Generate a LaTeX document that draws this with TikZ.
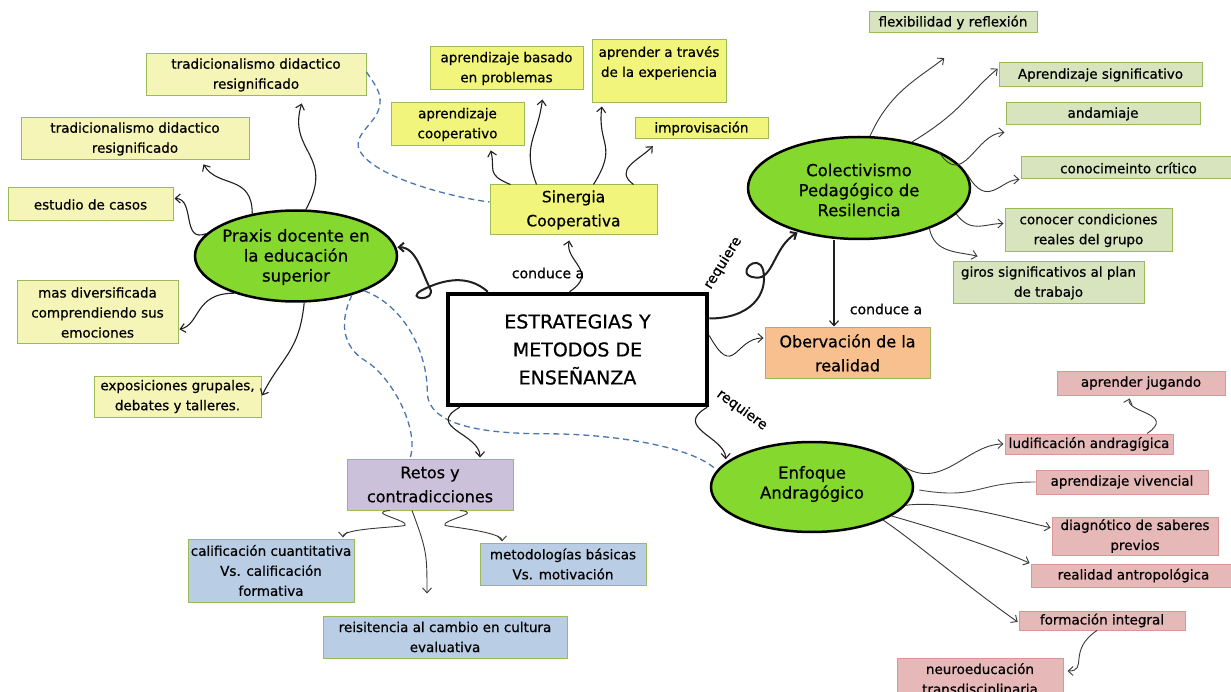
\documentclass[tikz,border=0pt]{standalone}
\usepackage{fontspec}
\setmainfont{DejaVu Sans}[FakeBold=0.6]
\usetikzlibrary{shapes.geometric,arrows.meta,calc}

\definecolor{lightyel}{HTML}{F6F5B8}
\definecolor{brightyel}{HTML}{F2F57C}
\definecolor{greenbox}{HTML}{D8E4BE}
\definecolor{boxline}{HTML}{9BBB59}
\definecolor{hubgreen}{HTML}{85D92E}
\definecolor{orangebox}{HTML}{F9C08F}
\definecolor{purplebox}{HTML}{CCC1DA}
\definecolor{bluebox}{HTML}{B9CDE5}
\definecolor{pinkbox}{HTML}{E6B9B8}
\definecolor{pinkline}{HTML}{D99694}
\definecolor{dashblue}{HTML}{4A76B0}

% rectangle node given by its corners (x1,y1)-(x2,y2)
\newcommand\boxat[7]{\node[#1, minimum width={#5-#3}, minimum height={#6-#4}] (#2) at ({(#3+#5)/2},{(#4+#6)/2}) {#7};}

\begin{document}
\begin{tikzpicture}[x=1pt,y=-1pt,
  base/.style={draw=boxline, line width=1pt, inner sep=0pt, align=center,
    font=\fontsize{13.5}{20}\selectfont},
  trad/.style={base, fill=lightyel},
  syn/.style={base, fill=brightyel},
  grn/.style={base, fill=greenbox},
  obsv/.style={base, fill=orangebox, font=\fontsize{16}{24}\selectfont},
  retos/.style={base, fill=purplebox, font=\fontsize{16}{24}\selectfont},
  blu/.style={base, fill=bluebox},
  pnk/.style={base, fill=pinkbox, draw=pinkline},
  hub/.style={ellipse, draw=black, line width=2.5pt, fill=hubgreen, inner sep=0pt},
  hubtxt/.style={align=center, inner sep=0pt, font=\fontsize{16.5}{20}\selectfont},
  lbl/.style={inner sep=0pt, font=\fontsize{14}{16}\selectfont},
  lk/.style={draw=black!88, line width=1.1pt, -{Straight Barb[length=5pt,width=9pt]}, shorten >=1pt},
  lkthick/.style={lk, line width=2pt},
  lkthin/.style={lk, line width=0.9pt, draw=black!78},
  plain/.style={draw=black!70, line width=0.9pt},
  dsh/.style={draw=dashblue, line width=1.3pt, dash pattern=on 6pt off 4pt}]

\useasboundingbox (0,0) rectangle (1231,692);
\fill[white] (0,0) rectangle (1231,692);

% left branch
\boxat{trad}{t1}{146}{54}{366}{96}{tradicionalismo didactico\\resignificado}
\boxat{trad}{t2}{21}{118}{249}{160}{tradicionalismo didactico\\resignificado}
\boxat{trad}{est}{8}{188}{173}{221}{estudio de casos}
\boxat{trad}{mas}{17}{281}{178}{344}{mas diversificada\\comprendiendo sus\\emociones}
\boxat{trad}{expo}{94}{376}{261}{417}{exposiciones grupales,\\debates y talleres.}

% top branch
\boxat{syn}{bas}{430}{47}{583}{90}{aprendizaje basado\\en problemas}
\boxat{syn}{tra}{592}{40}{726}{103}{aprender a través\\de la experiencia\\\mbox{}}
\boxat{syn}{coop}{391}{103}{524}{146}{aprendizaje\\cooperativo}
\boxat{syn}{imp}{635}{118}{768}{139}{improvisación}
\boxat{syn, font=\fontsize{15.5}{24}\selectfont}{sin}{490}{185}{657}{235}{Sinergia\\Cooperativa}

% upper right branch
\boxat{grn}{flex}{869}{12}{1037}{33}{flexibilidad y reflexión}
\boxat{grn}{aps}{999}{63}{1202}{87}{Aprendizaje significativo}
\boxat{grn}{anda}{1006}{103}{1200}{125}{andamiaje}
\boxat{grn}{conoc}{1021}{157}{1236}{179}{conocimeinto crítico}
\boxat{grn}{cond}{1005}{209}{1172}{252}{conocer condiciones\\reales del grupo}
\boxat{grn}{giros}{953}{262}{1144}{304}{giros significativos al plan\\de trabajo}

\boxat{obsv}{obs}{765}{328}{930}{378}{Obervación de la\\realidad}

% bottom branch
\boxat{retos}{ret}{347}{459}{513}{510}{Retos y\\contradicciones}
\boxat{blu}{calif}{188}{539}{354}{602}{calificación cuantitativa\\Vs. calificación\\formativa}
\boxat{blu}{met}{480}{543}{646}{585}{metodologías básicas\\Vs. motivación}
\boxat{blu}{rei}{323}{616}{567}{658}{reisitencia al cambio en cultura\\evaluativa}

% lower right branch
\boxat{pnk}{jug}{1057}{371}{1225}{395}{aprender jugando}
\boxat{pnk}{lud}{1005}{434}{1173}{454}{ludificación andragígica}
\boxat{pnk}{viv}{1036}{470}{1208}{494}{aprendizaje vivencial}
\boxat{pnk}{diag}{1052}{517}{1218}{555}{diagnótico de saberes\\previos}
\boxat{pnk}{real}{1031}{564}{1236}{587}{realidad antropológica}
\boxat{pnk}{form}{1019}{611}{1185}{630}{formación integral}
\boxat{pnk}{neu}{897}{658}{1063}{702}{neuroeducación\\transdisciplinaria}

% hubs
\node[hub, minimum width=202, minimum height=91] (praxis) at (296,256) {};
\node[hubtxt] (praxis-t) at (296,257) {Praxis docente en\\la educación\\superior};
\node[hub, minimum width=222, minimum height=102] (col) at (859,188) {};
\node[hubtxt] (col-t) at (859,190) {Colectivismo\\Pedagógico de\\Resilencia};
\node[hub, minimum width=202, minimum height=90] (enf) at (812,487) {};
\node[hubtxt] (enf-t) at (812,484) {Enfoque\\Andragógico};

% central topic
\node[draw=black, line width=4.5pt, fill=white, minimum width=259, minimum height=111,
  inner sep=0pt, align=center, font=\fontsize{19}{28}\selectfont] (cen) at (577.5,349.5)
  {ESTRATEGIAS Y\\METODOS DE\\ENSEÑANZA};

% dashed cross links
\draw[dsh] ([yshift=3pt]t1.east) .. controls +(10,15) and +(5,-15) .. ++(12,38)
  .. controls +(-5,15) and +(-10,-15) .. ++(-18,42)
  .. controls +(15,25) and +(-40,-5) .. ([yshift=8pt]sin.west);
\draw[dsh] (praxis.325) .. controls +(-12,25) and +(-25,-15) .. ++(14,66)
  .. controls +(25,15) and +(10,-30) .. ([xshift=-20pt]ret.north);
\draw[dsh] (praxis.333) .. controls +(40,15) and +(0,-40) .. ++(63,101)
  .. controls +(0,35) and +(-60,0) .. ++(120,42)
  .. controls +(60,0) and +(-25,-25) .. (enf.170);

% central topic links
\draw[lkthick] ([xshift=42pt]cen.north west) .. controls +(-20,-18) and +(20,-10) .. ++(-65,-2)
  .. controls +(-20,10) and +(8,15) .. ++(7,-2)
  .. controls +(-8,-15) and +(20,0) .. (praxis.5);
\draw[lk] ([xshift=-8pt]cen.north) .. controls +(30,-20) and +(-5,22) .. ([xshift=-4pt,yshift=-4pt]sin.south);
\draw[lkthick] ([yshift=31pt]cen.east) .. controls +(40,0) and +(5,25) .. ++(54,-48)
  .. controls +(-5,-20) and +(-22,-2) .. ++(-8,7)
  .. controls +(18,3) and +(-25,15) .. (col.216);
\draw[lk] ([xshift=-25pt]col.south) -- ([xshift=-13.5pt]obs.north);
\draw[lk, line width=0.9pt] ([yshift=14pt]cen.east) .. controls +(25,45) and +(-30,0) .. ([yshift=15pt]obs.west);
\draw[lk, shorten >=3pt] ([xshift=-2pt]cen.south east) .. controls +(-35,20) and +(0,-25) .. (enf.164);
\draw[lk] ([xshift=14pt]cen.south west) .. controls +(-35,20) and +(0,-25) .. ([xshift=50pt]ret.north);

\node[lbl] (lab1) at (548,273) {conduce a};
\node[lbl, rotate=58] (lab2) at (723,263) {requiere};
\node[lbl] (lab3) at (886,309) {conduce a};
\node[lbl, rotate=-36] (lab4) at (742,410) {requiere};

% praxis branch
\draw[lk] (praxis.78) .. controls +(30,-55) and +(-15,50) .. ([xshift=46pt,yshift=-6pt]t1.south);
\draw[lk] (praxis.136) .. controls +(0,-40) and +(15,25) .. ([xshift=68pt,yshift=-3pt]t2.south);
\draw[lk] (praxis.166) .. controls +(-25,10) and +(22,0) .. ([yshift=6pt]est.east);
\draw[lk] (praxis.211) .. controls +(-40,0) and +(22,-5) .. ([yshift=-17pt]mas.east);
\draw[lk] (praxis.280) .. controls +(-5,50) and +(20,-40) .. (expo.east);

% sinergia branch
\draw[lk] ([xshift=-63pt]sin.north) .. controls +(-25,-10) and +(5,20) .. ([xshift=33pt,yshift=-3pt]coop.south);
\draw[lk] ([xshift=-37pt]sin.north) .. controls +(-15,-40) and +(-5,40) .. ([xshift=36pt,yshift=-8pt]bas.south);
\draw[lk] ([xshift=20pt]sin.north) .. controls +(25,-40) and +(-5,40) .. ([xshift=-57pt,yshift=-2pt]tra.south);
\draw[lk] ([xshift=60pt]sin.north) .. controls +(-20,-15) and +(-15,15) .. ([xshift=-48pt,yshift=-6pt]imp.south);

% colectivismo branch
\draw[lkthin] (col.78) .. controls +(20,-45) and +(-25,20) .. ([xshift=-8pt,yshift=-24pt]flex.south);
\draw[lkthin] (col.41) .. controls +(50,-30) and +(-30,25) .. ([yshift=7pt]aps.west);
\draw[lkthin] (col.25) .. controls +(25,40) and +(-30,0) .. ([yshift=-7pt]anda.south west);
\draw[lkthin] (col.7) .. controls +(20,35) and +(-20,0) .. (conoc.south west);
\draw[lkthin] (col.345) .. controls +(15,20) and +(-20,0) .. ([yshift=7pt]cond.west);
\draw[lkthin] (col.330) .. controls +(5,25) and +(-20,-5) .. ([xshift=-70pt,yshift=5pt]giros.north);

% enfoque branch
\draw[lkthin] (enf.19) .. controls +(45,40) and +(-40,0) .. (lud.west);
\draw[plain] ([xshift=5pt,yshift=-3pt]enf.east) .. controls +(60,10) and +(-60,0) .. (viv.west);
\draw[lkthin] (enf.349) .. controls +(40,-5) and +(-50,-12) .. ([yshift=8pt]diag.west);
\draw[lkthin] (enf.340) .. controls +(35,10) and +(-45,-20) .. (real.north west);
\draw[lkthin] (enf.335) .. controls +(30,20) and +(-50,-35) .. ([yshift=-2pt]form.west);
\draw[lkthin] ([xshift=58pt]lud.north) .. controls +(30,-20) and +(-5,15) .. ([xshift=-11pt,yshift=-2pt]jug.south);
\draw[lkthin, shorten >=4pt] ([xshift=-5pt]form.south) .. controls +(-30,20) and +(25,0) .. ([yshift=9pt]neu.east);

% retos branch
\draw[lkthin] ([xshift=-40pt]ret.south) .. controls +(-25,2) and +(5,-5) .. ++(15,15)
  .. controls +(-10,2) and +(0,-10) .. ([xshift=72pt]calif.north);
\draw[lkthin] ([xshift=-18pt]ret.south) .. controls +(15,40) and +(0,-40) .. ([xshift=-18pt,yshift=21pt]rei.north);
\draw[lkthin] ([xshift=30pt]ret.south) .. controls +(25,2) and +(-5,-5) .. ++(-15,15)
  .. controls +(10,2) and +(0,-10) .. ([xshift=-61pt]met.north);
\end{tikzpicture}
\end{document}
